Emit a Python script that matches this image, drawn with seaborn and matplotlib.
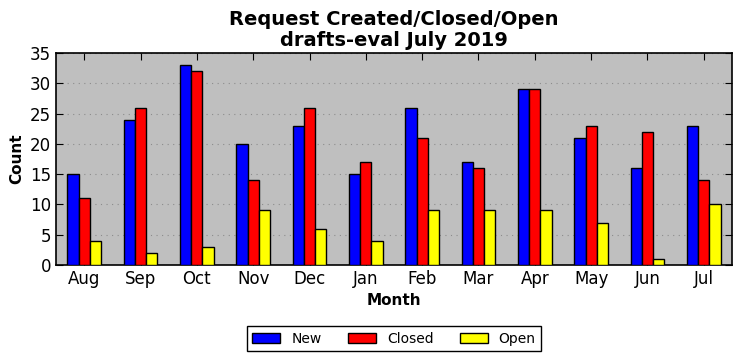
"""Request Created/Closed/Open — drafts-eval, July 2019."""

import matplotlib
matplotlib.use("Agg")
import matplotlib.pyplot as plt
import pandas as pd
import seaborn as sns

MONTHS = ["Aug", "Sep", "Oct", "Nov", "Dec", "Jan", "Feb", "Mar", "Apr", "May", "Jun", "Jul"]
NEW = [15, 24, 33, 20, 23, 15, 26, 17, 29, 21, 16, 23]
CLOSED = [11, 26, 32, 14, 26, 17, 21, 16, 29, 23, 22, 14]
OPEN = [4, 2, 3, 9, 6, 4, 9, 9, 9, 7, 1, 10]
SERIES = ["New", "Closed", "Open"]
COLORS = ["#0000ff", "#ff0000", "#ffff00"]

df = pd.DataFrame({"Month": MONTHS, "New": NEW, "Closed": CLOSED, "Open": OPEN})
long = df.melt(id_vars="Month", value_vars=SERIES, var_name="Status", value_name="Count")

sns.set_style("ticks")
plt.rcParams["font.family"] = ["DejaVu Sans"]
for key in ["text.color", "axes.labelcolor", "xtick.color", "ytick.color"]:
    plt.rcParams[key] = "black"

fig, ax = plt.subplots(figsize=(7.42, 3.61), dpi=100)
fig.subplots_adjust(left=0.0755, right=0.9865, top=0.853, bottom=0.266)

sns.barplot(data=long, x="Month", y="Count", hue="Status", hue_order=SERIES,
            palette=COLORS, width=0.6, gap=0, edgecolor="black", linewidth=1,
            saturation=1, ax=ax, zorder=3)

ax.set_facecolor("#bfbfbf")
ax.set_xlim(-0.5, len(MONTHS) - 0.5)
ax.set_ylim(0, 35)
ax.set_yticks(range(0, 36, 5))
ax.yaxis.grid(True, color="#8c8c8c", linestyle=(0, (1, 4)), linewidth=0.8, zorder=0)
ax.set_axisbelow(True)
ax.tick_params(direction="in", top=True, right=True, labelsize=12, length=5, width=0.8)
for s in ax.spines.values():
    s.set_linewidth(1.2)
    s.set_color("black")

ax.set_xlabel("Month", fontsize=11, fontweight="bold")
ax.set_ylabel("Count", fontsize=11, fontweight="bold")
ax.set_title("Request Created/Closed/Open\ndrafts-eval July 2019",
             fontsize=14, fontweight="bold", linespacing=1.15, pad=5)

ax.get_legend().remove()
handles = [plt.Rectangle((0, 0), 1, 1, facecolor=c, edgecolor="black") for c in COLORS]
leg = ax.legend(handles, SERIES, loc="upper center", bbox_to_anchor=(0.5, -0.257),
                ncol=3, fontsize=10, fancybox=False, edgecolor="black",
                framealpha=1, columnspacing=1.9, handlelength=2.0, borderpad=0.4)
leg.get_frame().set_linewidth(1)

fig.savefig("out.png", dpi=100)
